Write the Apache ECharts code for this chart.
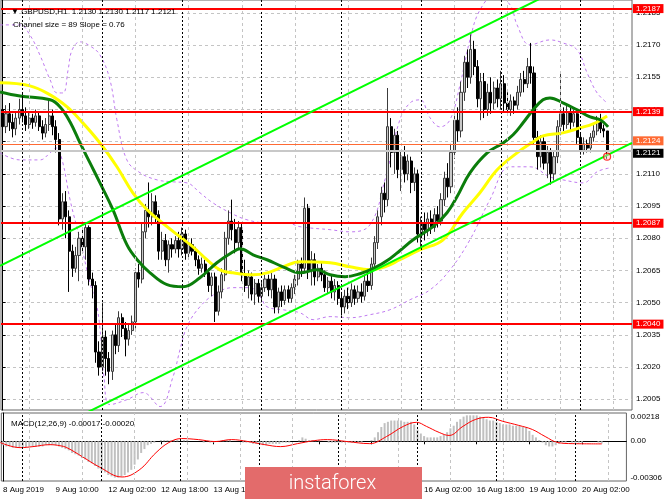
<!DOCTYPE html>
<html><head><meta charset="utf-8">
<script src="https://cdn.jsdelivr.net/npm/echarts@6/dist/echarts.min.js"></script>
<style>html,body{margin:0;padding:0;background:#fff}#c{width:665px;height:499px}</style>
</head><body><div id="c"></div>
<script>
const symbolName = 'GBPUSD,H1';
const channelText = 'Channel size = 89 Slope = 0.76';
const macdText = 'MACD(12,26,9) -0.00017 -0.00020';
const timeLabels = ['8 Aug 2019','9 Aug 10:00','12 Aug 02:00','12 Aug 18:00','13 Aug 10:00','14 Aug 02:00','14 Aug 18:00','15 Aug 10:00','16 Aug 02:00','16 Aug 18:00','19 Aug 10:00','20 Aug 02:00'];
const totalSlots = 190;
const labelStep = 16;
const dayStarts = [6,30,54,78,102,126,150,174];
const gridSlots = [8,24,40,56,72,88,104,120,136,152,168,184];
const priceTicks = [1.2005,1.2020,1.2035,1.2050,1.2065,1.2080,1.2095,1.2110,1.2125,1.2140,1.2155,1.2170,1.2185];
const macdTicks = [-0.00306, 0, 0.00218];
const levels = [1.2187, 1.2139, 1.2087, 1.2040];
const bidLevel = 1.2124;
const lastLevel = 1.2121;
const arrowMark = [[182, 1.2118]];

// candles: [open, close, low, high]
const aug08 = [[1.2140,1.2132,1.2128,1.2146],[1.2132,1.2138,1.2129,1.2142],[1.2138,1.2134,1.2130,1.2143],[1.2134,1.2131,1.2127,1.2138],[1.2131,1.2136,1.2128,1.2139],[1.2136,1.2140,1.2133,1.2145]];
const aug09 = [[1.2140,1.2137,1.2134,1.2148],[1.2137,1.2133,1.2130,1.2141],[1.2133,1.2136,1.2131,1.2139],[1.2136,1.2134,1.2131,1.2138],[1.2134,1.2137,1.2132,1.2140],[1.2137,1.2132,1.2130,1.2139],[1.2132,1.2129,1.2126,1.2135],[1.2129,1.2133,1.2127,1.2136],[1.2133,1.2137,1.2130,1.2145],[1.2137,1.2132,1.2128,1.2140],[1.2132,1.2126,1.2120,1.2135],[1.2126,1.2089,1.2086,1.2129],[1.2089,1.2097,1.2084,1.2101],[1.2097,1.2090,1.2080,1.2102],[1.2090,1.2074,1.2055,1.2093],[1.2074,1.2066,1.2062,1.2077],[1.2066,1.2072,1.2064,1.2076],[1.2072,1.2080,1.2060,1.2083],[1.2080,1.2076,1.2073,1.2084],[1.2076,1.2085,1.2070,1.2087],[1.2085,1.2061,1.2058,1.2086],[1.2061,1.2058,1.2052,1.2064],[1.2058,1.2027,1.2022,1.2060],[1.2027,1.2020,1.2016,1.2032]];
const aug12 = [[1.2020,1.2034,1.2018,1.2050],[1.2034,1.2024,1.2016,1.2037],[1.2024,1.2018,1.2012,1.2027],[1.2018,1.2035,1.2014,1.2037],[1.2035,1.2030,1.2026,1.2040],[1.2030,1.2043,1.2027,1.2046],[1.2043,1.2038,1.2034,1.2045],[1.2038,1.2033,1.2025,1.2041],[1.2033,1.2037,1.2030,1.2040],[1.2037,1.2041,1.2035,1.2044],[1.2041,1.2064,1.2038,1.2066],[1.2064,1.2061,1.2057,1.2068],[1.2061,1.2083,1.2059,1.2087],[1.2083,1.2093,1.2080,1.2096],[1.2093,1.2090,1.2085,1.2106],[1.2090,1.2097,1.2086,1.2101],[1.2097,1.2091,1.2087,1.2100],[1.2091,1.2074,1.2070,1.2093],[1.2074,1.2079,1.2070,1.2083],[1.2079,1.2070,1.2067,1.2082],[1.2070,1.2077,1.2064,1.2079],[1.2077,1.2075,1.2071,1.2080],[1.2075,1.2079,1.2073,1.2081],[1.2079,1.2075,1.2071,1.2083]];
const aug13 = [[1.2075,1.2082,1.2072,1.2085],[1.2082,1.2073,1.2070,1.2084],[1.2073,1.2077,1.2071,1.2079],[1.2077,1.2074,1.2072,1.2080],[1.2074,1.2070,1.2067,1.2076],[1.2070,1.2066,1.2063,1.2072],[1.2066,1.2068,1.2064,1.2071],[1.2068,1.2064,1.2062,1.2070],[1.2064,1.2058,1.2055,1.2066],[1.2058,1.2062,1.2053,1.2064],[1.2062,1.2046,1.2041,1.2064],[1.2046,1.2055,1.2044,1.2058],[1.2055,1.2063,1.2052,1.2066],[1.2063,1.2080,1.2060,1.2083],[1.2080,1.2088,1.2077,1.2093],[1.2088,1.2084,1.2079,1.2098],[1.2084,1.2078,1.2073,1.2089],[1.2078,1.2085,1.2075,1.2088],[1.2085,1.2063,1.2060,1.2087],[1.2063,1.2058,1.2055,1.2070],[1.2058,1.2062,1.2052,1.2065],[1.2062,1.2054,1.2051,1.2064],[1.2054,1.2059,1.2049,1.2061],[1.2059,1.2053,1.2050,1.2061]];
const aug14 = [[1.2053,1.2057,1.2051,1.2060],[1.2057,1.2061,1.2055,1.2063],[1.2061,1.2056,1.2053,1.2063],[1.2056,1.2061,1.2052,1.2064],[1.2061,1.2048,1.2045,1.2063],[1.2048,1.2055,1.2045,1.2057],[1.2055,1.2051,1.2048,1.2058],[1.2051,1.2056,1.2049,1.2058],[1.2056,1.2052,1.2050,1.2058],[1.2052,1.2057,1.2050,1.2059],[1.2057,1.2061,1.2054,1.2063],[1.2061,1.2068,1.2058,1.2070],[1.2068,1.2066,1.2062,1.2071],[1.2066,1.2094,1.2064,1.2099],[1.2094,1.2065,1.2061,1.2096],[1.2065,1.2070,1.2058,1.2074],[1.2070,1.2062,1.2058,1.2073],[1.2062,1.2066,1.2060,1.2068],[1.2066,1.2063,1.2060,1.2069],[1.2063,1.2057,1.2055,1.2065],[1.2057,1.2060,1.2054,1.2062],[1.2060,1.2055,1.2052,1.2063],[1.2055,1.2058,1.2051,1.2061],[1.2058,1.2052,1.2049,1.2060]];
const aug15 = [[1.2052,1.2048,1.2044,1.2055],[1.2048,1.2053,1.2045,1.2056],[1.2053,1.2050,1.2047,1.2057],[1.2050,1.2056,1.2048,1.2059],[1.2056,1.2052,1.2049,1.2058],[1.2052,1.2055,1.2050,1.2058],[1.2055,1.2053,1.2050,1.2059],[1.2053,1.2060,1.2051,1.2063],[1.2060,1.2058,1.2055,1.2066],[1.2058,1.2068,1.2056,1.2071],[1.2068,1.2078,1.2065,1.2081],[1.2078,1.2090,1.2075,1.2093],[1.2090,1.2101,1.2086,1.2104],[1.2101,1.2098,1.2092,1.2106],[1.2098,1.2132,1.2095,1.2150],[1.2132,1.2120,1.2113,1.2136],[1.2120,1.2128,1.2110,1.2131],[1.2128,1.2112,1.2108,1.2130],[1.2112,1.2118,1.2102,1.2121],[1.2118,1.2110,1.2106,1.2123],[1.2110,1.2116,1.2107,1.2119],[1.2116,1.2106,1.2101,1.2118],[1.2106,1.2110,1.2102,1.2113],[1.2110,1.2082,1.2078,1.2112]];
const aug16 = [[1.2082,1.2087,1.2076,1.2090],[1.2087,1.2084,1.2079,1.2092],[1.2084,1.2089,1.2081,1.2092],[1.2089,1.2085,1.2082,1.2093],[1.2085,1.2091,1.2083,1.2094],[1.2091,1.2088,1.2085,1.2095],[1.2088,1.2098,1.2086,1.2101],[1.2098,1.2108,1.2095,1.2111],[1.2108,1.2104,1.2099,1.2115],[1.2104,1.2120,1.2101,1.2124],[1.2120,1.2135,1.2117,1.2138],[1.2135,1.2130,1.2125,1.2141],[1.2130,1.2148,1.2127,1.2153],[1.2148,1.2162,1.2144,1.2165],[1.2162,1.2155,1.2150,1.2168],[1.2155,1.2168,1.2152,1.2175],[1.2168,1.2160,1.2156,1.2172],[1.2160,1.2145,1.2141,1.2163],[1.2145,1.2153,1.2135,1.2157],[1.2153,1.2140,1.2136,1.2157],[1.2140,1.2148,1.2137,1.2152],[1.2148,1.2143,1.2138,1.2155],[1.2143,1.2150,1.2140,1.2153],[1.2150,1.2145,1.2141,1.2154]];
const aug19 = [[1.2145,1.2152,1.2140,1.2158],[1.2152,1.2143,1.2139,1.2156],[1.2143,1.2140,1.2137,1.2148],[1.2140,1.2144,1.2137,1.2147],[1.2144,1.2142,1.2138,1.2146],[1.2142,1.2148,1.2140,1.2151],[1.2148,1.2154,1.2146,1.2157],[1.2154,1.2152,1.2148,1.2158],[1.2152,1.2160,1.2150,1.2164],[1.2160,1.2157,1.2152,1.2171],[1.2157,1.2127,1.2124,1.2160],[1.2127,1.2118,1.2112,1.2130],[1.2118,1.2125,1.2113,1.2128],[1.2125,1.2115,1.2112,1.2127],[1.2115,1.2120,1.2108,1.2123],[1.2120,1.2110,1.2105,1.2122],[1.2110,1.2118,1.2107,1.2121],[1.2118,1.2132,1.2115,1.2135],[1.2132,1.2138,1.2128,1.2157],[1.2138,1.2133,1.2130,1.2141],[1.2133,1.2139,1.2131,1.2142],[1.2139,1.2134,1.2130,1.2141],[1.2134,1.2138,1.2132,1.2140],[1.2138,1.2127,1.2124,1.2140]];
const aug20 = [[1.2127,1.2121,1.2119,1.2129],[1.2121,1.2124,1.2119,1.2127],[1.2124,1.2122,1.2120,1.2126],[1.2122,1.2127,1.2120,1.2129],[1.2127,1.2130,1.2125,1.2133],[1.2130,1.2134,1.2128,1.2137],[1.2134,1.2131,1.2129,1.2138],[1.2131,1.2130,1.2127,1.2133],[1.2130,1.2121,1.2117,1.2130]];

const macdHist = [-0.0003,-0.0004,-0.0004,-0.0005,-0.0005,-0.0005,
-0.0005,-0.0005,-0.0004,-0.0004,-0.0004,-0.0004,-0.0004,-0.0003,-0.0003,-0.0003,-0.0003,-0.0004,-0.0005,-0.0006,-0.0007,-0.0009,-0.0010,-0.0011,-0.0013,-0.0014,-0.0016,-0.0017,-0.0019,-0.0021,
-0.0023,-0.0024,-0.0026,-0.0027,-0.0028,-0.0028,-0.0027,-0.0026,-0.0024,-0.0022,-0.0018,-0.0014,-0.0009,-0.0006,-0.0003,-0.0002,-0.0001,0,0.0001,0.0001,0.0001,0.0001,0.0001,0.0001,
0,0.0001,0.0001,0,0,0,0,-0.0001,0,-0.0001,-0.0001,0,0,0.0001,0.0001,0.0001,0,0,0,-0.0001,-0.0001,-0.0001,-0.0002,-0.0002,
-0.0002,-0.0003,-0.0003,-0.0002,-0.0002,-0.0002,-0.0002,-0.0001,-0.0001,-0.0001,0,0,0.0001,0.0003,0.0002,0.0001,0.0001,0.0001,0.0001,0,0,-0.0001,-0.0001,-0.0001,
-0.0001,-0.0001,-0.0001,-0.0001,-0.0001,-0.0001,-0.0001,-0.0001,0,0,0.0001,0.0003,0.0007,0.0011,0.0014,0.0015,0.0016,0.0016,0.0016,0.0016,0.0015,0.0015,0.0015,0.0013,
0.0009,0.0006,0.0004,0.0003,0.0003,0.0003,0.0003,0.0004,0.0005,0.0007,0.0010,0.0012,0.0015,0.0017,0.0019,0.0020,0.0020,0.0020,0.0020,0.0019,0.0018,0.0017,0.0016,0.0016,
0.0015,0.0014,0.0013,0.0013,0.0013,0.0012,0.0012,0.0012,0.0011,0.0011,0.0008,0.0005,0.0003,0.0001,-0.0001,-0.0003,-0.0004,-0.0004,-0.0003,-0.0002,-0.0001,-0.0001,0,-0.0001,
-0.0001,-0.0001,-0.0001,0,0,0,0,-0.0001,-0.00017];

const macdSignal = [[-0.8,-0.00010],[5.2,-0.00049],[9.1,-0.00041],[14.3,-0.00026],[17.3,-0.00034],[19.4,-0.00049],[24.2,-0.00120],[29.3,-0.00198],[36.2,-0.00275],[41.4,-0.00221],[46.5,-0.00088],[50.4,-0.00010],[54.3,0.00021],[59.4,0.00013],[64.5,-0.00002],[69.4,0.00013],[74.5,-0.00002],[79.6,-0.00026],[84.4,-0.00041],[89.5,-0.00018],[94.6,0.00005],[98.6,0.00013],[104.6,-0.00002],[111.5,-0.00018],[116.6,0.00037],[121.7,0.00115],[125.7,0.00146],[128.7,0.00115],[132.6,0.00068],[135.6,0.00045],[139.8,0.00115],[143.7,0.00169],[147.6,0.00185],[151.9,0.00154],[156.7,0.00123],[160.9,0.00091],[164.8,0.00037],[168.7,-0.00010],[173.0,-0.00018],[182.0,-0.00020]];

const maYellow = [[-0.8,1.21524],[8.2,1.21510],[14.3,1.21468],[19.4,1.21412],[23.3,1.21352],[29.3,1.21244],[34.4,1.21133],[39.2,1.21012],[43.5,1.20933],[49.5,1.20854],[53.4,1.20807],[57.3,1.20760],[61.5,1.20700],[65.4,1.20653],[69.4,1.20639],[75.4,1.20630],[79.6,1.20639],[84.4,1.20667],[89.5,1.20691],[98.6,1.20686],[104.6,1.20667],[110.6,1.20653],[115.1,1.20667],[119.6,1.20700],[125.7,1.20747],[132.6,1.20793],[138.6,1.20919],[143.7,1.21012],[148.9,1.21119],[154.9,1.21198],[159.7,1.21249],[162.7,1.21277],[168.7,1.21291],[173.8,1.21314],[177.8,1.21333],[182.0,1.21370]];
const maGreen = [[-0.8,1.21482],[5.2,1.21463],[14.3,1.21445],[17.3,1.21412],[20.3,1.21342],[23.3,1.21244],[26.3,1.21151],[29.3,1.21058],[33.2,1.20933],[37.4,1.20770],[40.5,1.20700],[44.4,1.20639],[49.5,1.20584],[54.3,1.20574],[59.4,1.20616],[64.5,1.20686],[69.4,1.20737],[71.5,1.20751],[75.4,1.20723],[79.6,1.20700],[84.4,1.20667],[89.5,1.20639],[94.6,1.20653],[98.6,1.20630],[103.1,1.20621],[107.6,1.20635],[112.1,1.20663],[116.6,1.20705],[119.6,1.20742],[123.6,1.20793],[129.6,1.20854],[133.8,1.20919],[136.8,1.20993],[140.7,1.21105],[145.9,1.21198],[150.7,1.21244],[153.7,1.21282],[156.7,1.21338],[159.7,1.21398],[162.7,1.21445],[164.8,1.21454],[168.7,1.21431],[173.0,1.21398],[176.9,1.21365],[179.9,1.21352],[182.3,1.21319]];
const bandUpper = [[-0.8,1.21794],[5.2,1.21794],[8.2,1.21747],[11.2,1.21654],[14.3,1.21538],[16.4,1.21477],[18.2,1.21477],[19.7,1.21584],[20.9,1.21677],[23.3,1.21715],[26.3,1.21696],[29.3,1.21654],[32.3,1.21538],[34.4,1.21352],[37.4,1.21165],[41.4,1.21105],[46.5,1.21072],[51.3,1.21063],[55.5,1.21058],[59.4,1.21012],[63.3,1.20965],[68.5,1.20919],[73.6,1.20886],[79.6,1.20872],[85.6,1.20872],[89.5,1.20854],[98.6,1.20840],[104.6,1.20830],[110.6,1.20863],[115.1,1.21072],[119.6,1.21352],[122.7,1.21431],[125.7,1.21445],[128.7,1.21361],[131.7,1.21319],[134.7,1.21352],[137.7,1.21514],[140.7,1.21724],[143.7,1.21863],[148.3,1.21933],[152.8,1.21887],[154.9,1.21794],[158.8,1.21701],[164.8,1.21724],[168.7,1.21710],[173.0,1.21677],[176.0,1.21570],[179.0,1.21477],[182.0,1.21431]];
const bandLower = [[-0.8,1.21198],[5.2,1.21165],[11.2,1.21165],[14.3,1.21198],[16.1,1.21221],[17.9,1.21165],[20.3,1.20979],[23.3,1.20793],[26.3,1.20593],[28.4,1.20481],[29.6,1.20328],[30.5,1.20155],[32.3,1.20025],[37.4,1.20048],[42.3,1.20081],[47.4,1.20016],[51.3,1.20155],[53.4,1.20281],[55.5,1.20388],[59.4,1.20481],[64.5,1.20546],[69.4,1.20570],[74.5,1.20570],[77.5,1.20528],[79.6,1.20481],[84.4,1.20467],[89.5,1.20453],[93.5,1.20421],[98.6,1.20435],[104.6,1.20430],[110.6,1.20444],[116.6,1.20467],[122.7,1.20514],[128.7,1.20560],[134.7,1.20653],[140.7,1.20793],[146.7,1.20979],[152.8,1.21133],[158.8,1.21133],[164.8,1.21086],[168.7,1.21072],[174.8,1.21058],[179.0,1.21110],[182.9,1.21128]];
const channelUpper = [[-0.8,1.20672],[189.5,1.22128]];
const channelLower = [[-0.8,1.19788],[189.5,1.21244]];

const candles = [].concat(aug08, aug09, aug12, aug13, aug14, aug15, aug16, aug19, aug20);
const categories = [];
for (let i = 0; i < totalSlots; i++) categories.push(i % labelStep === 0 && timeLabels[i / labelStep] ? timeLabels[i / labelStep] : '');
const last = candles[candles.length - 1];
const headerText = '\u25BC ' + symbolName + '  ' + [last[0], last[3], last[2], last[1]].map(v => v.toFixed(4)).join(' ');

const FONT = 'Liberation Sans, Arial, sans-serif';
const vLines = dayStarts.map(v => ({xAxis: v, lineStyle: {color: '#000', type: [2, 2], width: 1}}))
  .concat(gridSlots.map(v => ({xAxis: v, lineStyle: {color: '#c4c4c4', type: [3, 3], width: 1}})));
function vGridSeries(xi, yi, y) {
  return {type: 'line', xAxisIndex: xi, yAxisIndex: yi, data: [[0, y]], symbol: 'none', lineStyle: {opacity: 0}, z: 1, silent: true,
    markLine: {symbol: 'none', silent: true, animation: false, precision: 4, label: {show: false}, data: vLines}};
}
const levelLabel = (bg) => ({show: true, position: 'end', distance: 1, formatter: p => Number(p.value).toFixed(4), color: '#fff', backgroundColor: bg, padding: [1, 3, 0, 3], fontSize: 8, fontFamily: FONT});

const chart = echarts.init(document.getElementById('c'), null, {renderer: 'canvas'});
chart.setOption({
  animation: false,
  backgroundColor: '#fff',
  title: [
    {text: headerText, left: 6, top: 3, textStyle: {fontSize: 8, fontWeight: 'normal', color: '#000', fontFamily: FONT}},
    {text: channelText, left: 8, top: 16, textStyle: {fontSize: 8, fontWeight: 'normal', color: '#000', fontFamily: FONT}},
    {text: macdText, left: 6, top: 415, textStyle: {fontSize: 8, fontWeight: 'normal', color: '#000', fontFamily: FONT}}
  ],
  grid: [
    {left: 1, top: 0, width: 631, height: 410, show: true, borderColor: '#666', borderWidth: 1, backgroundColor: 'transparent'},
    {left: 1, top: 413, width: 631, height: 68, show: true, borderColor: '#666', borderWidth: 1, backgroundColor: 'transparent'}
  ],
  xAxis: [
    {type: 'category', gridIndex: 0, data: categories, boundaryGap: true, axisLine: {show: false}, axisTick: {show: false}, axisLabel: {show: false}, splitLine: {show: false}},
    {type: 'value', gridIndex: 0, min: -0.5, max: totalSlots - 0.5, show: false},
    {type: 'category', gridIndex: 1, data: categories, boundaryGap: true,
      axisLine: {show: true, lineStyle: {color: '#000'}},
      axisTick: {show: true, interval: labelStep - 1, alignWithLabel: true, length: 3, lineStyle: {color: '#000'}},
      axisLabel: {show: true, interval: labelStep - 1, align: 'left', margin: 5, fontSize: 8, color: '#000', fontFamily: FONT, hideOverlap: false},
      splitLine: {show: false}},
    {type: 'value', gridIndex: 1, min: -0.5, max: totalSlots - 0.5, show: false}
  ],
  yAxis: [
    {type: 'value', gridIndex: 0, position: 'right', min: 1.2000, max: 1.2191, scale: true,
      axisLine: {show: true, lineStyle: {color: '#000'}},
      axisTick: {show: true, length: 3, lineStyle: {color: '#000'}, customValues: priceTicks},
      axisLabel: {show: true, margin: 4, fontSize: 8, color: '#000', fontFamily: FONT, customValues: priceTicks, formatter: v => v.toFixed(4)},
      splitLine: {show: true, lineStyle: {color: '#c4c4c4', type: [3, 3]}}},
    {type: 'value', gridIndex: 1, position: 'right', min: -0.00306, max: 0.00218,
      axisLine: {show: true, lineStyle: {color: '#000'}},
      axisTick: {show: true, length: 3, lineStyle: {color: '#000'}, customValues: [0]},
      axisLabel: {show: true, margin: 4, fontSize: 8, color: '#000', fontFamily: FONT, customValues: macdTicks,
        formatter: v => v === 0 ? '0.00' : (v > 0 ? '{t|' + v.toFixed(5) + '}' : '{b|' + v.toFixed(5) + '}'),
        rich: {t: {padding: [7, 0, 0, 0], fontSize: 8, fontFamily: FONT}, b: {padding: [0, 0, 7, 0], fontSize: 8, fontFamily: FONT}}},
      splitLine: {show: true, lineStyle: {color: '#c4c4c4', type: [3, 3]}}}
  ],
  series: [
    vGridSeries(1, 0, 1.21),
    vGridSeries(3, 1, 0),
    {type: 'line', name: 'bbUpper', xAxisIndex: 1, yAxisIndex: 0, data: bandUpper, smooth: 0.4, symbol: 'none', z: 2,
      lineStyle: {color: '#bf7af0', width: 1, type: [3, 3]}},
    {type: 'line', name: 'bbLower', xAxisIndex: 1, yAxisIndex: 0, data: bandLower, smooth: 0.4, symbol: 'none', z: 2,
      lineStyle: {color: '#bf7af0', width: 1, type: [3, 3]}},
    {type: 'line', name: 'lastLine', xAxisIndex: 1, yAxisIndex: 0, data: [[0, lastLevel]], symbol: 'none', lineStyle: {opacity: 0}, z: 2,
      markLine: {symbol: 'none', silent: true, animation: false, precision: 5, data: [
        {yAxis: lastLevel, lineStyle: {color: '#c8c8c8', width: 2, type: 'solid'}, label: Object.assign(levelLabel('#000'), {offset: [0, 3]})},
        {yAxis: bidLevel, lineStyle: {color: '#ff6a33', width: 1, type: 'solid'}, label: Object.assign(levelLabel('#ff6a33'), {offset: [0, -3]})}
      ]}},
    {type: 'candlestick', name: symbolName, xAxisIndex: 0, yAxisIndex: 0, data: candles, barWidth: 2.6, z: 3,
      itemStyle: {color: '#c8c8c8', color0: '#000', borderColor: '#3c3c3c', borderColor0: '#000', borderWidth: 1}},
    {type: 'line', name: 'maYellow', xAxisIndex: 1, yAxisIndex: 0, data: maYellow, smooth: 0.4, symbol: 'none', z: 4,
      lineStyle: {color: '#ffff00', width: 3}},
    {type: 'line', name: 'maGreen', xAxisIndex: 1, yAxisIndex: 0, data: maGreen, smooth: 0.4, symbol: 'none', z: 4,
      lineStyle: {color: '#0b7d0b', width: 3}},
    {type: 'line', name: 'channelUpper', xAxisIndex: 1, yAxisIndex: 0, data: channelUpper, symbol: 'none', z: 5,
      lineStyle: {color: '#00ff00', width: 2}},
    {type: 'line', name: 'channelLower', xAxisIndex: 1, yAxisIndex: 0, data: channelLower, symbol: 'none', z: 5,
      lineStyle: {color: '#00ff00', width: 2},
      markLine: {symbol: 'none', silent: true, animation: false, precision: 5,
        data: levels.map(v => ({yAxis: v, lineStyle: {color: '#ff0000', width: 2, type: 'solid'}, label: levelLabel('#ff0000')}))}},
    {type: 'scatter', name: 'arrow', xAxisIndex: 1, yAxisIndex: 0, data: arrowMark, symbol: 'circle', symbolSize: 7, z: 6,
      itemStyle: {color: 'rgba(255,200,200,0.6)', borderColor: '#ff0000', borderWidth: 1.2}},
    {type: 'bar', name: 'macd', xAxisIndex: 2, yAxisIndex: 1, data: macdHist, barWidth: 2, z: 2,
      itemStyle: {color: '#c0c0c0'}},
    {type: 'line', name: 'signal', xAxisIndex: 3, yAxisIndex: 1, data: macdSignal, smooth: 0.4, symbol: 'none', z: 3,
      lineStyle: {color: '#ff0000', width: 1}}
  ],
  graphic: [
    {type: 'rect', left: 245, top: 467, shape: {width: 177, height: 40}, style: {fill: '#e36b6b'}, z: 100},
    {type: 'text', left: 'center', top: 474, x: 0, style: {text: 'instaforex', fill: '#fff', font: '300 20px Roboto, sans-serif'}, z: 101}
  ]
});
</script></body></html>
